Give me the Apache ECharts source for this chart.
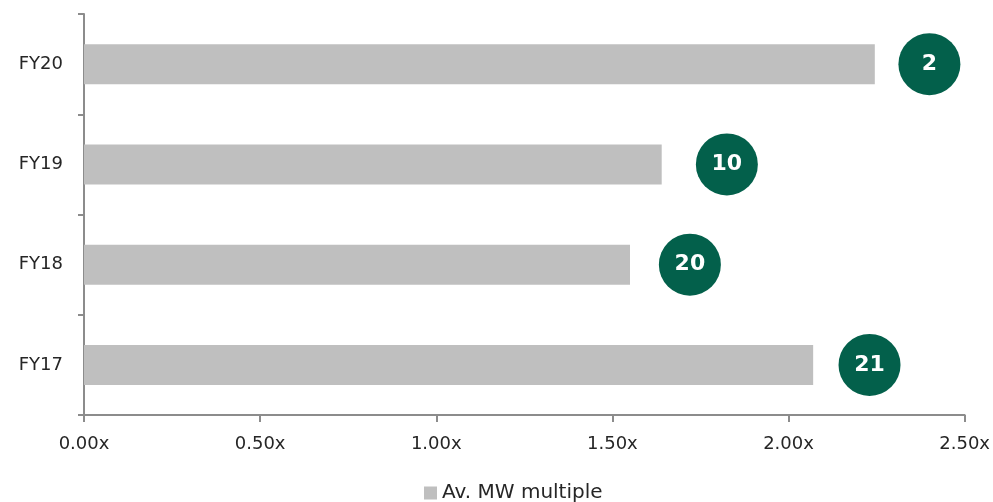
<!DOCTYPE html>
<html>
<head>
<meta charset="utf-8">
<script src="https://cdn.jsdelivr.net/npm/echarts@6/dist/echarts.min.js"></script>
<style>
  html, body { margin: 0; padding: 0; background: #ffffff; }
  #chart { width: 993px; height: 502px; }
</style>
</head>
<body>
<div id="chart"></div>
<script>
// Fiscal years, bottom to top
const years = ['FY17', 'FY18', 'FY19', 'FY20'];
// Average MW multiple per year
const mwMultiple = [2.07, 1.55, 1.64, 2.245];
// Rank badges and where they sit along the multiple scale
const ranks = [21, 20, 10, 2];
const rankPosition = [2.23, 1.72, 1.825, 2.40];
// Value axis ticks
const xTicks = [0, 0.5, 1.0, 1.5, 2.0, 2.5];

const FONT = '"DejaVu Sans", sans-serif';
const AXIS_GREY = '#8c8c8c';
const TEXT = '#262626';

const chart = echarts.init(document.getElementById('chart'), null, { renderer: 'canvas' });

chart.setOption({
  animation: false,
  textStyle: { fontFamily: FONT },
  grid: { left: 84, right: 27, top: 14, bottom: 87, containLabel: false },
  legend: {
    data: ['Av. MW multiple'],
    top: 478,
    left: 419,
    icon: 'rect',
    itemWidth: 13,
    itemHeight: 13,
    itemGap: 6,
    textStyle: { fontFamily: FONT, fontSize: 20, color: TEXT }
  },
  xAxis: {
    type: 'value',
    min: xTicks[0],
    max: xTicks[xTicks.length - 1],
    interval: 0.5,
    axisLine: { show: true, lineStyle: { color: AXIS_GREY, width: 2 } },
    axisTick: { show: true, length: 7, lineStyle: { color: AXIS_GREY, width: 2 } },
    splitLine: { show: false },
    axisLabel: {
      margin: 20,
      fontSize: 18,
      color: TEXT,
      fontFamily: FONT,
      formatter: v => v.toFixed(2) + 'x'
    }
  },
  yAxis: {
    type: 'category',
    data: years,
    axisLine: { show: true, lineStyle: { color: AXIS_GREY, width: 2 } },
    axisTick: { show: true, length: 6, alignWithLabel: false, lineStyle: { color: AXIS_GREY, width: 2 } },
    axisLabel: { margin: 21, fontSize: 18, color: TEXT, fontFamily: FONT }
  },
  series: [
    {
      name: 'Av. MW multiple',
      type: 'bar',
      data: mwMultiple,
      barWidth: 40,
      itemStyle: { color: '#bfbfbf' },
      z: 2
    },
    {
      name: 'Rank',
      type: 'scatter',
      data: rankPosition.map((x, i) => [x, years[i]]),
      symbol: 'circle',
      symbolSize: 62,
      itemStyle: { color: '#03604b', opacity: 1 },
      label: {
        show: true,
        position: 'inside',
        color: '#ffffff',
        fontWeight: 'bold',
        fontSize: 22,
        fontFamily: FONT,
        formatter: p => String(ranks[p.dataIndex])
      },
      z: 5
    }
  ]
});
</script>
</body>
</html>
